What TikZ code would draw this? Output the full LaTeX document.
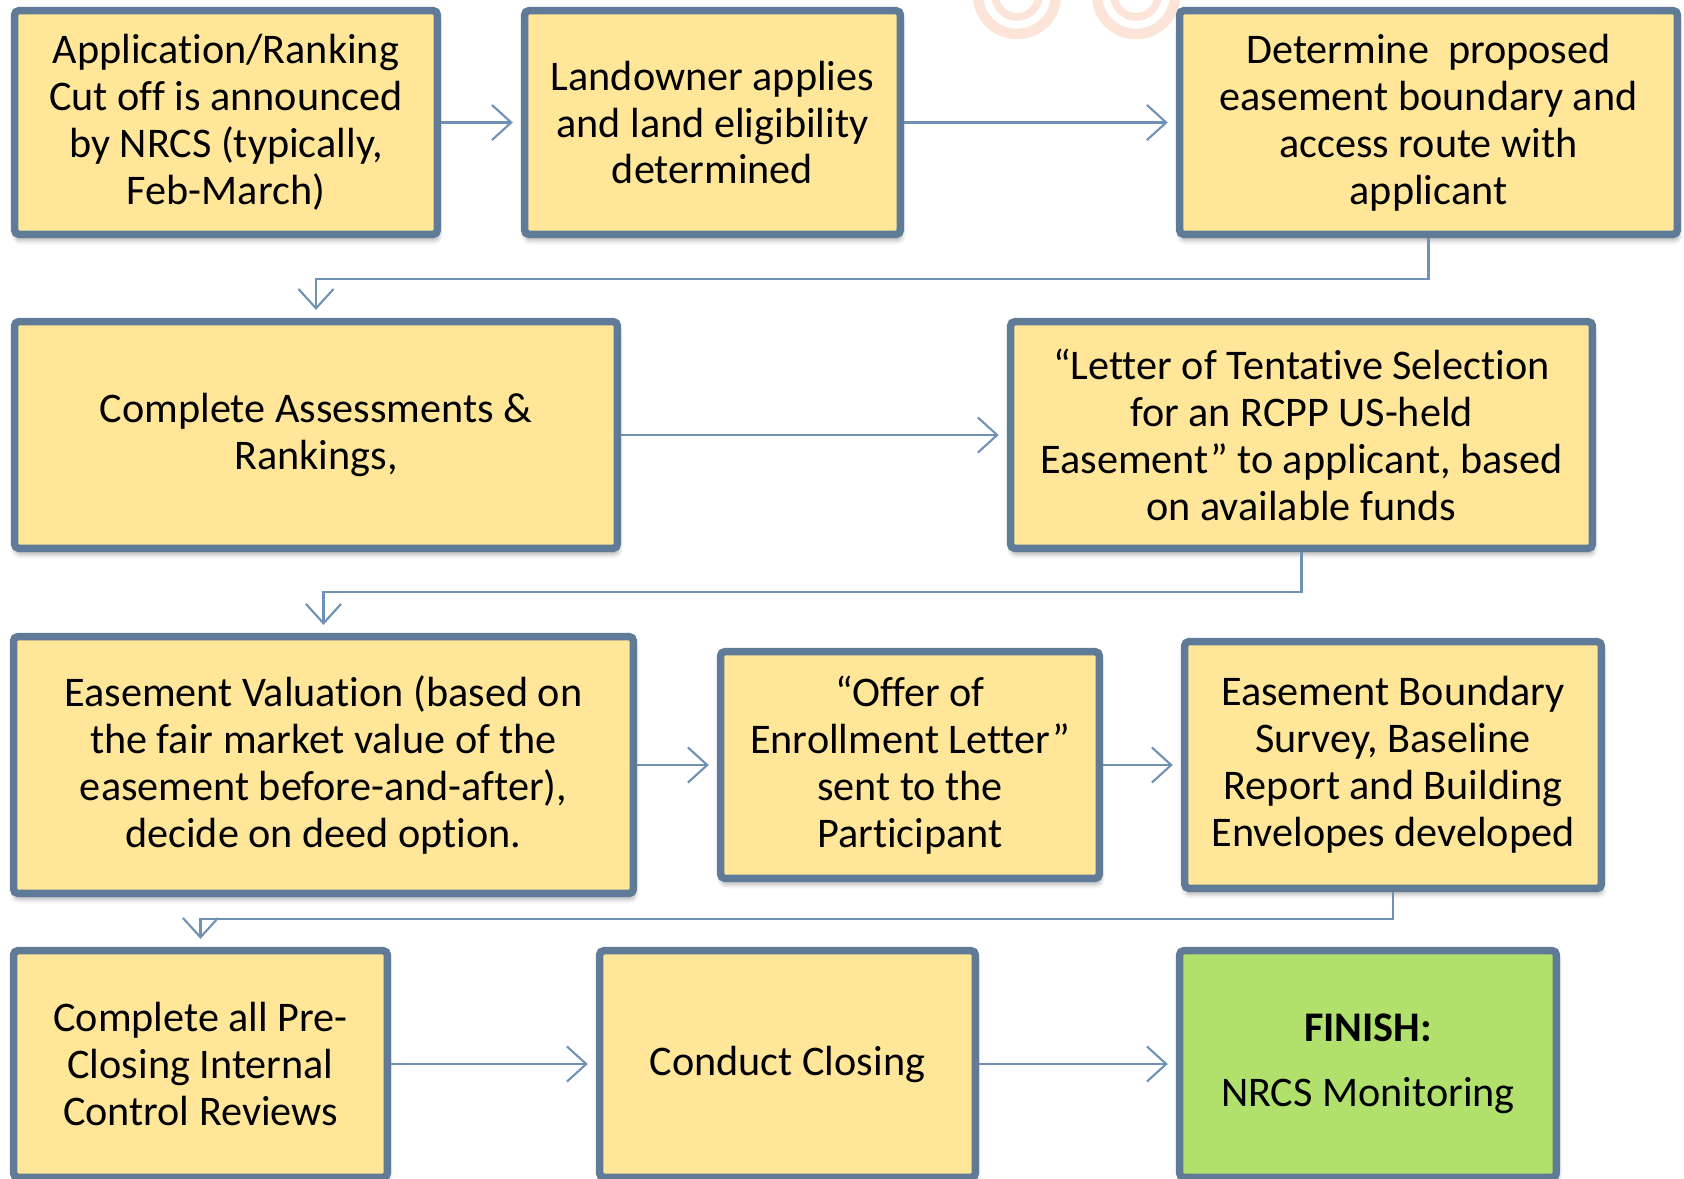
\documentclass[tikz,border=0pt]{standalone}
\usepackage{fontspec}
\setmainfont{Carlito}[Ligatures=CommonOff]
\usetikzlibrary{arrows.meta,shadows.blur}

\definecolor{boxedge}{HTML}{5F7B97}
\definecolor{boxfill}{HTML}{FFE699}
\definecolor{finishfill}{HTML}{B1E16C}
\definecolor{linkcol}{HTML}{7091B6}
\definecolor{ringcol}{HTML}{FCE5D8}

\newcommand{\boxfont}{\fontsize{12}{13.35}\selectfont}

\tikzset{
  stepbox/.style={draw=boxedge, line width=2.13pt, fill=boxfill,
    rounded corners=1.2pt, align=center, inner sep=0pt, font=\boxfont,
    blur shadow={shadow xshift=0.3pt, shadow yshift=-1.6pt,
      shadow opacity=35, shadow blur radius=1.4pt}},
  finishbox/.style={stepbox, fill=finishfill},
  link/.style={draw=linkcol, line width=0.6pt, shorten >=2.3pt,
    -{Straight Barb[length=5.5pt,width=10pt,line width=0.6pt]}},
  ring/.style={draw=ringcol, line width=#1}
}

\begin{document}
\begin{tikzpicture}[x=0.01cm, y=-0.01cm]
  \useasboundingbox (0,0) rectangle (1684,1178);

  % faint rings of the logo in the background
  \draw[ring=3pt] (1017,-5) circle (39);
  \draw[ring=2.2pt] (1017,-5) circle (22);
  \draw[ring=3pt] (1136,-5) circle (39);
  \draw[ring=2.2pt] (1136,-5) circle (22);

  % row 1
  \node[stepbox, minimum width=4.225cm, minimum height=2.235cm] (b1) at (226,122.5)
    {Application/Ranking\\Cut off is announced\\by NRCS (typically,\\Feb-March)};
  \node[stepbox, minimum width=3.755cm, minimum height=2.235cm] (b2) at (712.5,122.5)
    {Landowner applies\\and land eligibility\\determined};
  \node[stepbox, minimum width=4.975cm, minimum height=2.235cm] (b3) at (1428.5,122.5)
    {Determine~ proposed\\easement boundary and\\access route with\\applicant};

  % row 2
  \node[stepbox, minimum width=6.025cm, minimum height=2.265cm] (b4) at (316,435)
    {Complete Assessments \&\\Rankings,};
  \node[stepbox, minimum width=5.815cm, minimum height=2.265cm] (b5) at (1301.5,435)
    {“Letter of Tentative Selection\\for an RCPP US-held\\Easement” to applicant, based\\on available funds};

  % row 3
  \node[stepbox, minimum width=6.195cm, minimum height=2.565cm] (b6) at (323.5,765)
    {Easement Valuation (based on\\the fair market value of the\\easement before-and-after),\\decide on deed option.};
  \node[stepbox, minimum width=3.785cm, minimum height=2.265cm] (b7) at (910,765)
    {“Offer of\\Enrollment Letter”\\sent to the\\Participant};
  \node[stepbox, minimum width=4.165cm, minimum height=2.465cm] (b8) at (1393,765)
    {Easement Boundary\\Survey, Baseline\\Report and Building\\Envelopes developed};

  % row 4
  \node[stepbox, minimum width=3.735cm, minimum height=2.265cm] (b9) at (200.5,1064)
    {Complete all Pre-\\Closing Internal\\Control Reviews};
  \node[stepbox, minimum width=3.755cm, minimum height=2.265cm] (b10) at (787.5,1064)
    {Conduct Closing};
  \node[finishbox, minimum width=3.765cm, minimum height=2.265cm] (b11) at (1368,1064)
    {\textbf{FINISH:}\\[5.2pt]NRCS Monitoring};

  % levels of the return lines between rows
  \coordinate (r1) at (0,279);
  \coordinate (r2) at (0,592);
  \coordinate (r3) at (0,919);

  % connectors
  \draw[link] (b1.east) -- (b2.west);
  \draw[link] (b2.east) -- (b3.west);
  \draw[link] (b3.south) -- (b3.south |- r1) -| (b4.north);
  \draw[link] (b4.east) -- (b5.west);
  \draw[link] (b5.south) -- (b5.south |- r2) -| (b6.north);
  \draw[link] (b6.east) -- (b7.west);
  \draw[link] (b7.east) -- (b8.west);
  \draw[link] (b8.south) -- (b8.south |- r3) -| (b9.north);
  \draw[link] (b9.east) -- (b10.west);
  \draw[link] (b10.east) -- (b11.west);
\end{tikzpicture}
\end{document}
